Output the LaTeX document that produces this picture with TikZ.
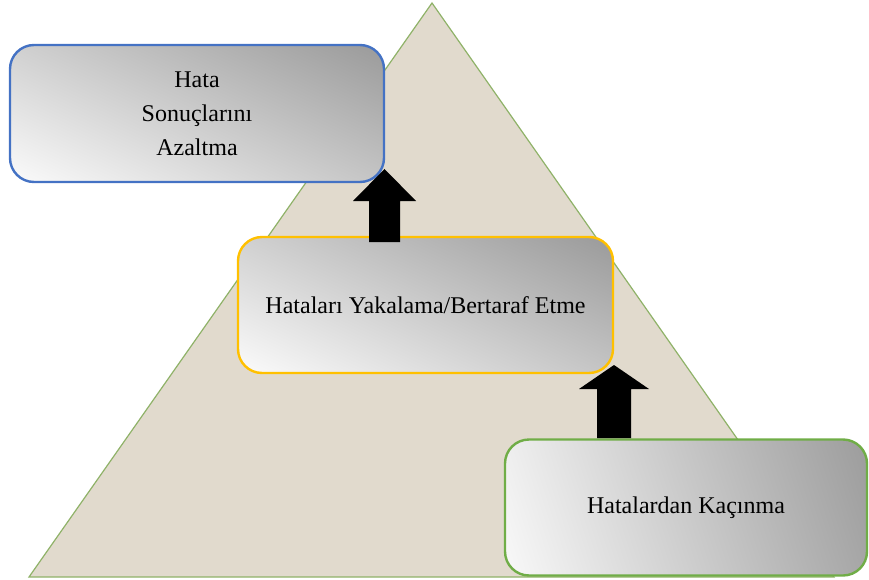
\documentclass[tikz,border=0pt]{standalone}
\usepackage{fontspec}
\setmainfont{Liberation Serif}
\definecolor{refgray}{RGB}{150,150,150}
\definecolor{stone}{RGB}{225,218,205}
\definecolor{stoneedge}{RGB}{143,178,104}
\pgfdeclareverticalshading{boxgrad}{100bp}{color(0bp)=(white); color(14bp)=(white); color(86bp)=(refgray); color(100bp)=(refgray)}
\begin{document}
\begin{tikzpicture}[x=1pt,y=-1pt,
  box/.style={rounded corners=24pt, line width=2.4pt, align=center,
    inner sep=0pt, font=\fontsize{24}{34}\selectfont,
    shading=boxgrad, shading angle=-25},
  blockarrow/.style={fill=black, draw=none}]
\useasboundingbox (0,0) rectangle (869,580);
% pyramid
\fill[fill=stone, draw=stoneedge, line width=1.2pt]
  (432,3) -- (834,577) -- (29,577) -- cycle;
% boxes
\node[box, draw={rgb,255:red,68;green,114;blue,196}, minimum width=374pt, minimum height=137pt]
  (top) at (197,113.5) {Hata\\Sonuçlarını\\Azaltma};
\node[box, draw={rgb,255:red,255;green,192;blue,0}, minimum width=375pt, minimum height=136pt]
  (mid) at (425.5,305) {Hataları Yakalama/Bertaraf Etme};
\node[box, draw={rgb,255:red,112;green,173;blue,71}, minimum width=362pt, minimum height=136pt,
  shading angle=-72]
  (bot) at (686,507.5) {Hatalardan Kaçınma};
% block arrows
\coordinate (a1) at (384.5,242);
\coordinate (a2) at (614,438);
\fill[blockarrow] (a1) ++(-15.5,0) -- ++(0,-41) -- ++(-16,0) -- (384.5,169) -- (416,201) -- (400,201) -- (400,242) -- cycle;
\fill[blockarrow] (a2) ++(-17,0) -- ++(0,-49) -- ++(-18,0) -- (614,365) -- (649,389) -- (631,389) -- (631,438) -- cycle;
\end{tikzpicture}
\end{document}
